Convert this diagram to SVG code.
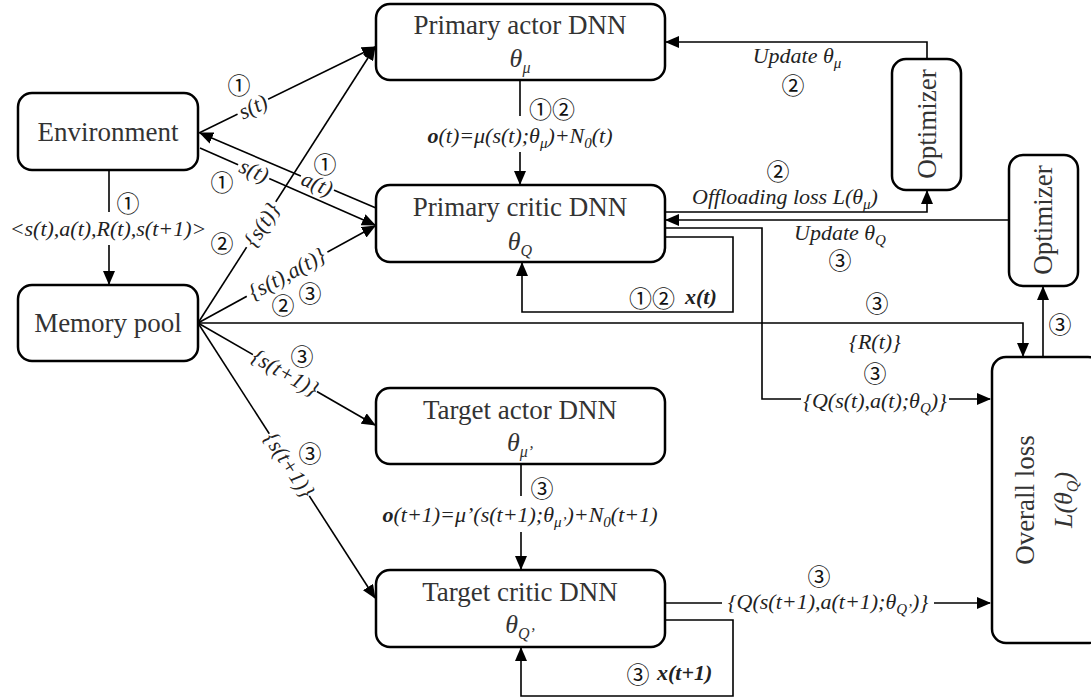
<svg xmlns="http://www.w3.org/2000/svg" width="1091" height="700" viewBox="0 0 1091 700">
<style>
.box{fill:#fff;stroke:#000;stroke-width:2.5}
.ln{fill:none;stroke:#000;stroke-width:1.6}
.bg{fill:#fff;stroke:none}
.nt{font-family:"Liberation Serif","Tinos","DejaVu Serif","Noto Serif",serif;font-size:27px;fill:#333;text-anchor:middle}
.th{font-family:"Liberation Serif","Tinos","DejaVu Serif","Noto Serif",serif;font-size:26px;font-style:italic;fill:#333;text-anchor:middle}
.lb{font-family:"Liberation Serif","Tinos","DejaVu Serif","Noto Serif",serif;font-size:22px;font-style:italic;fill:#222;text-anchor:middle}
.st{font-family:"Liberation Serif","Tinos","DejaVu Serif","Noto Serif",serif;font-size:22px;font-style:italic;fill:#222}
.c{font-family:"Noto Sans CJK SC","DejaVu Sans",sans-serif;font-size:23px;fill:#111;text-anchor:middle;dominant-baseline:central}
.b{font-weight:bold}
</style>
<defs>
<marker id="ar" markerWidth="14" markerHeight="12" refX="13" refY="6" orient="auto" markerUnits="userSpaceOnUse">
<path d="M0,0 L14,6 L0,12 Z" fill="#000"/>
</marker>
</defs>
<rect width="1091" height="700" fill="#fff"/>

<g id="connectors">
<line class="ln" x1="520" y1="80" x2="520" y2="116"/>
<line class="ln" x1="520" y1="152" x2="520" y2="184" marker-end="url(#ar)"/>
<polyline class="ln" points="927,59 927,42 666,42" marker-end="url(#ar)"/>
<polyline class="ln" points="665,212 927,212 927,191" marker-end="url(#ar)"/>
<line class="ln" x1="1009" y1="220" x2="666" y2="220" marker-end="url(#ar)"/>
<polyline class="ln" points="665,228 762,228 762,399 990,399" marker-end="url(#ar)"/>
<polyline class="ln" points="665,237 733,237 733,312 522,312 522,263" marker-end="url(#ar)"/>
<polyline class="ln" points="198,323 1023,323 1023,356" marker-end="url(#ar)"/>
<line class="ln" x1="1043" y1="357" x2="1043" y2="287" marker-end="url(#ar)"/>
<line class="ln" x1="109" y1="170" x2="109" y2="212"/>
<line class="ln" x1="109" y1="245" x2="109" y2="284" marker-end="url(#ar)"/>
<line class="ln" x1="199" y1="133" x2="375" y2="47" marker-end="url(#ar)"/>
<line class="ln" x1="376" y1="208" x2="200" y2="133" marker-end="url(#ar)"/>
<line class="ln" x1="200" y1="148" x2="375" y2="225" marker-end="url(#ar)"/>
<line class="ln" x1="198" y1="323" x2="375" y2="47" marker-end="url(#ar)"/>
<line class="ln" x1="198" y1="323" x2="375" y2="226" marker-end="url(#ar)"/>
<line class="ln" x1="198" y1="323" x2="375" y2="425" marker-end="url(#ar)"/>
<line class="ln" x1="198" y1="323" x2="375" y2="598" marker-end="url(#ar)"/>
<line class="ln" x1="521" y1="464" x2="521" y2="496"/>
<line class="ln" x1="521" y1="532" x2="521" y2="569" marker-end="url(#ar)"/>
<line class="ln" x1="665" y1="603" x2="990" y2="603" marker-end="url(#ar)"/>
<polyline class="ln" points="665,620 733,620 733,696 521,696 521,648" marker-end="url(#ar)"/>

<rect class="bg" x="801" y="390" width="148" height="21"/>
<rect class="bg" x="722" y="592" width="212" height="22"/>
<rect class="bg" transform="translate(253,107) rotate(-26)" x="-17" y="-10" width="34" height="20"/>
<rect class="bg" transform="translate(317,184) rotate(23)" x="-18" y="-10" width="36" height="20"/>
<rect class="bg" transform="translate(254,171) rotate(23.6)" x="-17" y="-10" width="34" height="20"/>
<rect class="bg" transform="translate(262,225) rotate(-57)" x="-27" y="-10" width="54" height="20"/>
<rect class="bg" transform="translate(287,274) rotate(-28.6)" x="-46" y="-10" width="92" height="20"/>
<rect class="bg" transform="translate(285,373) rotate(29.8)" x="-37" y="-10" width="74" height="20"/>
<rect class="bg" transform="translate(289,465) rotate(57)" x="-37" y="-10" width="74" height="20"/>

<text class="c" x="529" y="108" style="text-anchor:start">①②</text>
<text class="lb" x="520" y="143"><tspan class="b">o</tspan>(t)=μ(s(t);θ<tspan dy="5" font-size="15">μ</tspan><tspan dy="-5">)+N</tspan><tspan dy="5" font-size="15">0</tspan><tspan dy="-5">(t)</tspan></text>

<text class="lb" x="797" y="63">Update θ<tspan dy="5" font-size="15">μ</tspan></text>
<text class="c" x="793" y="84">②</text>

<text class="c" x="778" y="170">②</text>
<text class="lb" x="785" y="204">Offloading loss L(θ<tspan dy="5" font-size="15">μ</tspan><tspan dy="-5">)</tspan></text>

<text class="lb" x="840" y="240">Update θ<tspan dy="5" font-size="15">Q</tspan></text>
<text class="c" x="840" y="259">③</text>

<text class="c" x="875" y="372">③</text>
<text class="lb" x="875" y="408">{Q(s(t),a(t);θ<tspan dy="5" font-size="15">Q</tspan><tspan dy="-5">)}</tspan></text>

<text class="c" x="652" y="297">①②</text>
<text class="st b" x="685" y="304">x(t)</text>

<text class="c" x="877" y="302">③</text>
<text class="lb" x="875" y="349">{R(t)}</text>

<text class="c" x="1060" y="323">③</text>

<text class="c" x="128" y="202">①</text>
<text class="lb" x="108" y="236">&lt;s(t),a(t),R(t),s(t+1)&gt;</text>

<text class="c" x="239" y="84">①</text>
<text class="lb" transform="translate(253,107) rotate(-26)" x="0" y="7">s(t)</text>

<text class="c" x="325" y="163">①</text>
<text class="lb" transform="translate(317,184) rotate(23)" x="0" y="7">a(t)</text>

<text class="c" x="222" y="181">①</text>
<text class="lb" transform="translate(254,171) rotate(23.6)" x="0" y="7">s(t)</text>

<text class="c" x="222" y="242">②</text>
<text class="lb" transform="translate(262,225) rotate(-57)" x="0" y="7">{s(t)}</text>

<text class="lb" transform="translate(287,274) rotate(-28.6)" x="0" y="7">{s(t),a(t)}</text>
<text class="c" x="283" y="304">②</text>
<text class="c" x="310" y="292">③</text>

<text class="c" x="302" y="355">③</text>
<text class="lb" transform="translate(285,373) rotate(29.8)" x="0" y="7">{s(t+1)}</text>

<text class="c" x="310" y="452">③</text>
<text class="lb" transform="translate(289,465) rotate(57)" x="0" y="7">{s(t+1)}</text>

<text class="c" x="542" y="487">③</text>
<text class="lb" x="520" y="522"><tspan class="b">o</tspan>(t+1)=μ’(s(t+1);θ<tspan dy="5" font-size="15">μ’</tspan><tspan dy="-5">)+N</tspan><tspan dy="5" font-size="15">0</tspan><tspan dy="-5">(t+1)</tspan></text>

<text class="c" x="819" y="575">③</text>
<text class="lb" x="828" y="609">{Q(s(t+1),a(t+1);θ<tspan dy="5" font-size="15">Q’</tspan><tspan dy="-5">)}</tspan></text>

<text class="c" x="638" y="673">③</text>
<text class="st b" x="657" y="680">x(t+1)</text>
</g>

<g id="environment">
<rect class="box" x="18" y="93" width="180" height="77" rx="14"/>
<text class="nt" x="108" y="141">Environment</text>
</g>
<g id="memory-pool">
<rect class="box" x="18" y="285" width="180" height="76" rx="14"/>
<text class="nt" x="108" y="332">Memory pool</text>
</g>
<g id="primary-actor">
<rect class="box" x="376" y="4" width="289" height="76" rx="14"/>
<text class="nt" x="520" y="34">Primary actor DNN</text>
<text class="th" x="520" y="67">θ<tspan dy="6" font-size="16">μ</tspan></text>
</g>
<g id="primary-critic">
<rect class="box" x="376" y="185" width="289" height="77" rx="14"/>
<text class="nt" x="520" y="216">Primary critic DNN</text>
<text class="th" x="520" y="250">θ<tspan dy="6" font-size="16">Q</tspan></text>
</g>
<g id="target-actor">
<rect class="box" x="376" y="388" width="289" height="76" rx="14"/>
<text class="nt" x="520" y="419">Target actor DNN</text>
<text class="th" x="520" y="451">θ<tspan dy="6" font-size="16">μ’</tspan></text>
</g>
<g id="target-critic">
<rect class="box" x="376" y="570" width="289" height="77" rx="14"/>
<text class="nt" x="520" y="601">Target critic DNN</text>
<text class="th" x="520" y="633">θ<tspan dy="6" font-size="16">Q’</tspan></text>
</g>
<g id="optimizer-1">
<rect class="box" x="892" y="59" width="69" height="131" rx="14"/>
<text class="nt" transform="translate(927,124) rotate(-90)" x="0" y="9">Optimizer</text>
</g>
<g id="optimizer-2">
<rect class="box" x="1009" y="155" width="69" height="131" rx="14"/>
<text class="nt" transform="translate(1043,220) rotate(-90)" x="0" y="9">Optimizer</text>
</g>
<g id="overall-loss">
<rect class="box" x="992" y="357" width="110" height="286" rx="14"/>
<text class="nt" transform="translate(1034,500) rotate(-90)" x="0" y="0">Overall loss</text>
<text class="th" transform="translate(1072,500) rotate(-90)" x="0" y="0">L(θ<tspan dy="6" font-size="16">Q</tspan><tspan dy="-6">)</tspan></text>
</g>
</svg>
